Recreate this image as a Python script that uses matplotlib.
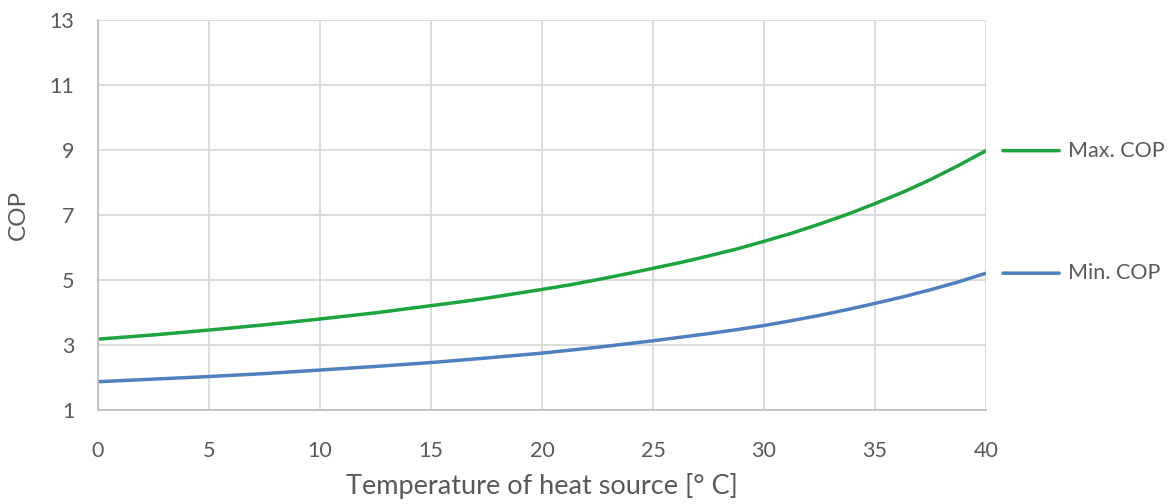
import matplotlib.pyplot as plt
import numpy as np

# temperature of heat source [deg C] and COP
temperature = [0, 1.25, 2.5, 3.75, 5, 6.25, 7.5, 8.75, 10, 11.25, 12.5, 13.75, 15, 16.25, 17.5, 18.75,
               20, 21.25, 22.5, 23.75, 25, 26.25, 27.5, 28.75, 30, 31.25, 32.5, 33.75, 35, 36.25, 37.5, 38.75, 40]
max_cop = [3.18, 3.245, 3.31, 3.385, 3.46, 3.54, 3.62, 3.71, 3.80, 3.895, 3.99, 4.10, 4.21, 4.32, 4.44, 4.575,
           4.71, 4.85, 5.01, 5.18, 5.36, 5.54, 5.74, 5.95, 6.19, 6.44, 6.72, 7.02, 7.35, 7.70, 8.09, 8.52, 8.98]
min_cop = [1.87, 1.91, 1.95, 1.99, 2.03, 2.075, 2.12, 2.175, 2.23, 2.285, 2.34, 2.40, 2.46, 2.53, 2.60, 2.675,
           2.75, 2.84, 2.93, 3.03, 3.13, 3.24, 3.35, 3.47, 3.60, 3.75, 3.91, 4.09, 4.28, 4.48, 4.70, 4.94, 5.21]

series_names = ["Max. COP", "Min. COP"]
series_colors = ["#1ca43f", "#4f7fbf"]
x_ticks = [0, 5, 10, 15, 20, 25, 30, 35, 40]
y_ticks = [1, 3, 5, 7, 9, 11, 13]

plt.rcParams['font.family'] = ['Lato', 'DejaVu Sans']
text_color = "#595959"
px = 0.72  # points per pixel at dpi 100

fig = plt.figure(figsize=(11.73, 5.04), dpi=100)
ax = fig.add_axes([98 / 1173, 1 - 410 / 504, 888 / 1173, 390 / 504])

for name, values, color in zip(series_names, [max_cop, min_cop], series_colors):
    ax.plot(temperature, values, color=color, linewidth=2.5, solid_capstyle='butt')
    # end-of-series label with a short line segment, like an Excel data label
    ax.annotate(name, xy=(temperature[-1], values[-1]), xytext=(82 * px, 0),
                textcoords='offset points', va='center', ha='left',
                fontsize=15.5, color=text_color, annotation_clip=False,
                arrowprops=dict(arrowstyle='-', color=color, lw=2.5,
                                shrinkA=6 * px, shrinkB=17 * px,
                                relpos=(0, 0.5)))

ax.set_xlim(x_ticks[0], x_ticks[-1])
ax.set_ylim(y_ticks[0], y_ticks[-1])
ax.set_xticks(x_ticks)
ax.set_yticks(y_ticks)
ax.grid(True, color="#d9d9d9", linewidth=1.3)
ax.set_axisbelow(True)
ax.tick_params(length=0, labelsize=15.5, labelcolor=text_color)
ax.tick_params(axis='x', pad=22)
ax.tick_params(axis='y', pad=17)
for side in ["top", "right"]:
    ax.spines[side].set_visible(False)
for side in ["left", "bottom"]:
    ax.spines[side].set_color("#bfbfbf")
    ax.spines[side].set_linewidth(1.3)

ax.set_xlabel("Temperature of heat source [° C]", fontsize=19.5, color=text_color, labelpad=9)
ax.set_ylabel("COP", fontsize=17.5, color=text_color, labelpad=15)

fig.savefig("out.png", dpi=100)
